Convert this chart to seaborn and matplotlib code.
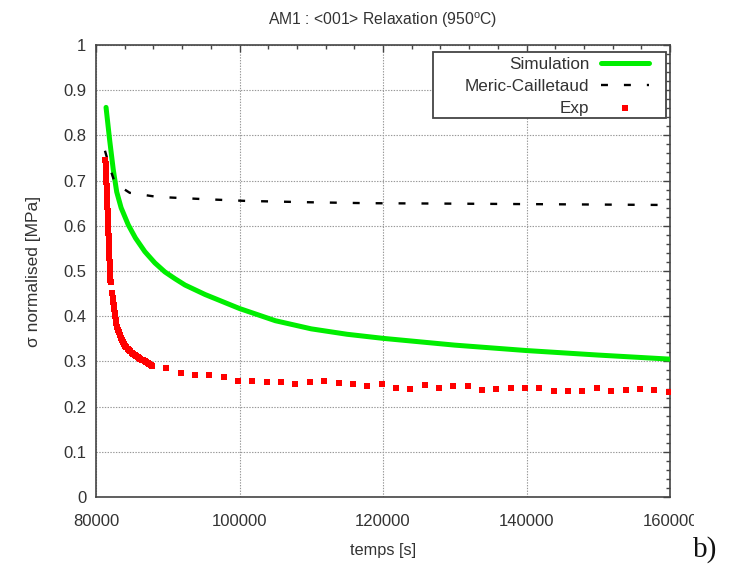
import matplotlib
matplotlib.use("Agg")
import matplotlib.pyplot as plt
import seaborn as sns
import pandas as pd
from matplotlib.ticker import MultipleLocator
from matplotlib.transforms import Bbox
from matplotlib.patches import Rectangle

# ---- data -------------------------------------------------------------
sim_t = [81400, 81900, 82400, 82885, 83500, 84500, 85500, 86800, 88200, 89600,
         91000, 92400, 95200, 100000, 105000, 110000, 115000, 120000, 130000,
         140000, 150000, 160000]
sim_s = [0.862, 0.790, 0.725, 0.675, 0.640, 0.602, 0.573, 0.543, 0.518, 0.498,
         0.483, 0.469, 0.448, 0.417, 0.390, 0.372, 0.360, 0.351, 0.336,
         0.324, 0.314, 0.305]

mc_t = [81250, 82000, 82650, 84700, 88500, 95000, 101000, 110000, 118000,
        130000, 140000, 150000, 160000]
mc_s = [0.766, 0.725, 0.694, 0.673, 0.664, 0.659, 0.655, 0.652, 0.650,
        0.649, 0.648, 0.647, 0.646]

exp_t = [81300, 81330, 81360, 81390, 81420, 81440, 81460, 81480, 81500, 81520,
         81540, 81560, 81580, 81600, 81620, 81640, 81660, 81680, 81700, 81720,
         81740, 81760, 81780, 81800, 81820, 81840, 81860, 81880, 81900, 81920,
         81940, 81960, 81990, 82020, 82050, 82250,
         82330, 82400, 82470, 82540, 82610, 82680, 82760, 82850, 82950, 83050,
         83170, 83300, 83450, 83600, 83750, 83900, 84050, 84200, 84400, 84600,
         84800, 85000, 85200, 85400, 85600, 85800, 86000, 86200, 86400, 86600,
         86800, 87000, 87200, 87400, 87600, 87800,
         89800, 91800, 93800, 95800, 97800, 99800, 101800, 103800, 105800,
         107800, 109800, 111800, 113800, 115800, 117800, 119800, 121800,
         123800, 125800, 127800, 129800, 131800, 133800, 135800, 137800,
         139800, 141800, 143800, 145800, 147800, 149800, 151800, 153800,
         155800, 157800, 159800]
exp_s = [0.745, 0.737, 0.729, 0.721, 0.713, 0.705, 0.697, 0.689, 0.681, 0.673,
         0.665, 0.657, 0.649, 0.641, 0.633, 0.625, 0.617, 0.609, 0.601, 0.593,
         0.585, 0.577, 0.569, 0.561, 0.553, 0.545, 0.537, 0.529, 0.521, 0.513,
         0.505, 0.497, 0.489, 0.481, 0.476, 0.452,
         0.440, 0.432, 0.424, 0.416, 0.408, 0.400, 0.392, 0.384, 0.377, 0.370,
         0.364, 0.358, 0.352, 0.347, 0.343, 0.339, 0.335, 0.332, 0.328, 0.325,
         0.322, 0.319, 0.317, 0.314, 0.312, 0.310, 0.308, 0.306, 0.304, 0.302,
         0.300, 0.298, 0.296, 0.294, 0.292, 0.290,
         0.285, 0.274, 0.270, 0.270, 0.266, 0.257, 0.257, 0.254, 0.254,
         0.249, 0.254, 0.257, 0.252, 0.250, 0.246, 0.249, 0.241,
         0.239, 0.248, 0.242, 0.246, 0.246, 0.237, 0.238, 0.241,
         0.241, 0.241, 0.235, 0.235, 0.235, 0.242, 0.235, 0.237,
         0.240, 0.236, 0.232]

x_ticks = [80000, 100000, 120000, 140000, 160000]
y_ticks = [0, 0.1, 0.2, 0.3, 0.4, 0.5, 0.6, 0.7, 0.8, 0.9, 1]
y_tick_labels = ["0", "0.1", "0.2", "0.3", "0.4", "0.5", "0.6", "0.7",
                 "0.8", "0.9", "1"]

# ---- style ------------------------------------------------------------
sns.set_style("white")
plt.rcParams["font.family"] = ["Liberation Sans", "DejaVu Sans"]
plt.rcParams["lines.scale_dashes"] = False
text_col = "#333333"
W, H = 730, 568

fig = plt.figure(figsize=(W / 100, H / 100), dpi=100)
ax_l, ax_r, ax_t, ax_b = 96, 670, 45, 497
ax = fig.add_axes([ax_l / W, 1 - ax_b / H, (ax_r - ax_l) / W, (ax_b - ax_t) / H])

sim_df = pd.DataFrame({"t": sim_t, "s": sim_s})
mc_df = pd.DataFrame({"t": mc_t, "s": mc_s})
exp_df = pd.DataFrame({"t": exp_t, "s": exp_s})

sns.lineplot(data=sim_df, x="t", y="s", ax=ax, color="#00ee00", lw=3.6,
             label="Simulation", zorder=3)
sns.lineplot(data=mc_df, x="t", y="s", ax=ax, color="black", lw=1.7,
             linestyle=(0, (5, 11.5)), label="Meric-Cailletaud", zorder=3)
sns.scatterplot(data=exp_df, x="t", y="s", ax=ax, color="red", marker="s",
                s=20, linewidth=0, label="Exp", zorder=4)

ax.set_xlim(80000, 160000)
ax.set_ylim(0, 1)
ax.set_xticks(x_ticks)
ax.set_xticklabels([str(v) for v in x_ticks])
ax.set_yticks(y_ticks)
ax.set_yticklabels(y_tick_labels)
ax.xaxis.set_minor_locator(MultipleLocator(4000))
ax.yaxis.set_minor_locator(MultipleLocator(0.02))
ax.tick_params(which="both", direction="in", top=True, right=True,
               colors="#444444", labelcolor=text_col, labelsize=12)
ax.tick_params(which="major", length=5, width=1)
ax.tick_params(which="minor", length=3, width=1)
ax.tick_params(axis="x", pad=12)
ax.tick_params(axis="y", pad=7)
ax.grid(True, which="major", color="#999999", lw=0.8, linestyle=(0, (1, 1)))
for sp in ax.spines.values():
    sp.set_color("#444444")
    sp.set_linewidth(1.2)

ax.set_xlabel("temps [s]", color=text_col, fontsize=11.8, labelpad=10)
ax.set_ylabel("σ normalised [MPa]", color=text_col, fontsize=12.5, labelpad=16)
ax.set_title("AM1 : <001> Relaxation (950$^{\\mathregular{o}}$C)",
             color=text_col, fontsize=11.3, pad=14.5)

# legend box drawn separately, entries right-aligned against their samples
def ax_frac(px, py):
    return (px - ax_l) / (ax_r - ax_l), (ax_b - py) / (ax_b - ax_t)

bx0, by0 = ax_frac(433, 118)
bx1, by1 = ax_frac(666, 52)
ax.add_patch(Rectangle((bx0, by0), bx1 - bx0, by1 - by0, transform=ax.transAxes,
                       facecolor="white", edgecolor="#444444", lw=1.3,
                       zorder=4.5))
ax_anchor = ax_frac(649, 57)
leg = ax.legend(loc="upper right", bbox_to_anchor=ax_anchor, markerfirst=False,
                frameon=False, fontsize=12.3, handlelength=2.8,
                handletextpad=0.7, labelspacing=0.40, borderpad=0,
                borderaxespad=0)
leg.set_zorder(6)
for t in leg.get_texts():
    t.set_color(text_col)

fig.text(693 / W, 1 - 550 / H, "b)", family="Liberation Serif",
         fontsize=21, color="#111111", va="center", ha="left")

# the last x tick label runs past the right edge of the image
fig.canvas.draw()
last = ax.get_xticklabels()[-1]
last.set_clip_on(True)
last.set_clip_box(Bbox.from_extents(0, 0, 694, H))

fig.savefig("out.png", dpi=100)
